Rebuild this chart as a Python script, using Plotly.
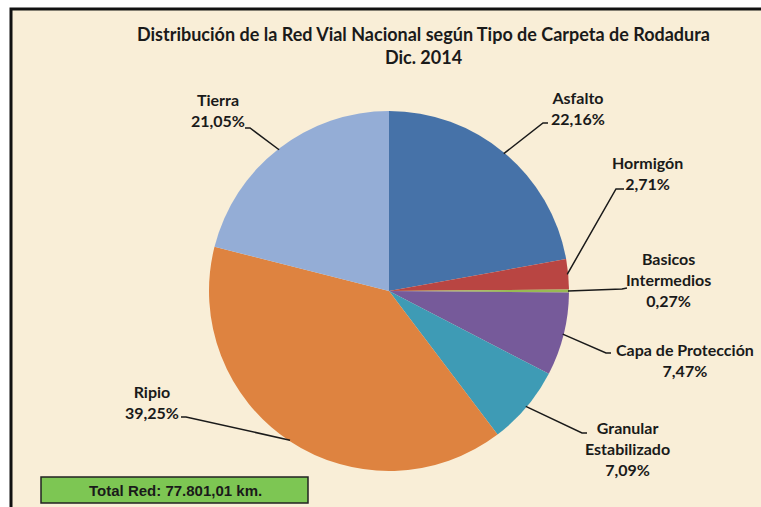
import math
import plotly.graph_objects as go

# ---- data ----
categories = ["Asfalto", "Hormigón", "Basicos Intermedios", "Capa de Protección",
              "Granular Estabilizado", "Ripio", "Tierra"]
label_text = ["Asfalto", "Hormigón", "Basicos<br>Intermedios", "Capa de Protección",
              "Granular<br>Estabilizado", "Ripio", "Tierra"]
percent_values = [22.16, 2.71, 0.27, 7.47, 7.09, 39.25, 21.05]
percent_labels = ["22,16%", "2,71%", "0,27%", "7,47%", "7,09%", "39,25%", "21,05%"]
title_lines = ["Distribución de la Red Vial Nacional según Tipo de Carpeta de Rodadura", "Dic. 2014"]
total_text = "Total Red: 77.801,01 km."

# ---- style / layout ----
colors = ["#4672A8", "#B94542", "#98B954", "#765A9A", "#3E9BB5", "#DE8340", "#94ADD6"]
W, H = 761, 507
CX, CY, R = 389, 291, 180
BG = "#F9EED7"
FONT = "Lato"
# label text centres (px) and the elbow point of each leader line (px)
label_pos = [(578, 108), (647, 173), (668, 279), (685, 360), (627, 448), (152, 402), (218, 110)]
elbow_pos = [(543, 123), (616, 189), (622, 289), (606, 353), (582, 433), (186, 417), (250, 128)]
elbow_end = [(548, 123), (624, 189), (627, 288), (611, 353), (587, 433), (181, 417), (245, 128)]


def px(x):
    return x / W


def py(y):
    return 1 - y / H


fig = go.Figure(go.Pie(
    labels=categories,
    values=percent_values,
    sort=False,
    direction="clockwise",
    rotation=0,
    textinfo="none",
    hoverinfo="label+percent",
    marker=dict(colors=colors, line=dict(width=0)),
    domain=dict(x=[px(CX - R), px(CX + R)], y=[py(CY + R), py(CY - R)]),
    showlegend=False,
))

shapes = [
    # framed background
    dict(type="rect", xref="paper", yref="paper", x0=px(11), y0=py(9), x1=px(W + 10), y1=py(H + 10),
         fillcolor=BG, line=dict(color="#111111", width=3), layer="below"),
    # total box
    dict(type="rect", xref="paper", yref="paper", x0=px(41), y0=py(477), x1=px(308), y1=py(503),
         fillcolor="#7DC653", line=dict(color="#222222", width=1.5)),
]

annotations = []
total = sum(percent_values)
cum = 0.0
for i, v in enumerate(percent_values):
    mid = (cum + v / 2) / total * 2 * math.pi
    cum += v
    ex = CX + (R - 1) * math.sin(mid)
    ey = CY - (R - 1) * math.cos(mid)
    bx, by = elbow_pos[i]
    tx, ty = elbow_end[i]
    shapes.append(dict(type="path", xref="paper", yref="paper",
                       path=f"M {px(ex)},{py(ey)} L {px(bx)},{py(by)} L {px(tx)},{py(ty)}",
                       line=dict(color="#1a1a1a", width=1.5)))
    lx, ly = label_pos[i]
    annotations.append(dict(x=px(lx), y=py(ly), xref="paper", yref="paper",
                            text=f"{label_text[i]}<br>{percent_labels[i]}", showarrow=False,
                            xanchor="center", yanchor="middle", align="center",
                            font=dict(family=FONT, size=16, color="#1a1a1a", weight="bold")))

annotations.append(dict(x=px(424), y=py(45), xref="paper", yref="paper",
                        text="<br>".join(title_lines), showarrow=False,
                        xanchor="center", yanchor="middle", align="center",
                        font=dict(family=FONT, size=18, color="#1a1a1a", weight="bold")))
annotations.append(dict(x=px(175), y=py(490), xref="paper", yref="paper",
                        text=total_text, showarrow=False, xanchor="center", yanchor="middle",
                        font=dict(family="Liberation Sans", size=15, color="#1a1a1a", weight="bold")))

fig.update_layout(
    width=W, height=H,
    margin=dict(l=0, r=0, t=0, b=0),
    paper_bgcolor="white",
    plot_bgcolor="white",
    shapes=shapes,
    annotations=annotations,
)

fig.write_html("out.html", config={"displayModeBar": False},
               post_script="document.body.style.margin='0';document.body.style.overflow='hidden';")
